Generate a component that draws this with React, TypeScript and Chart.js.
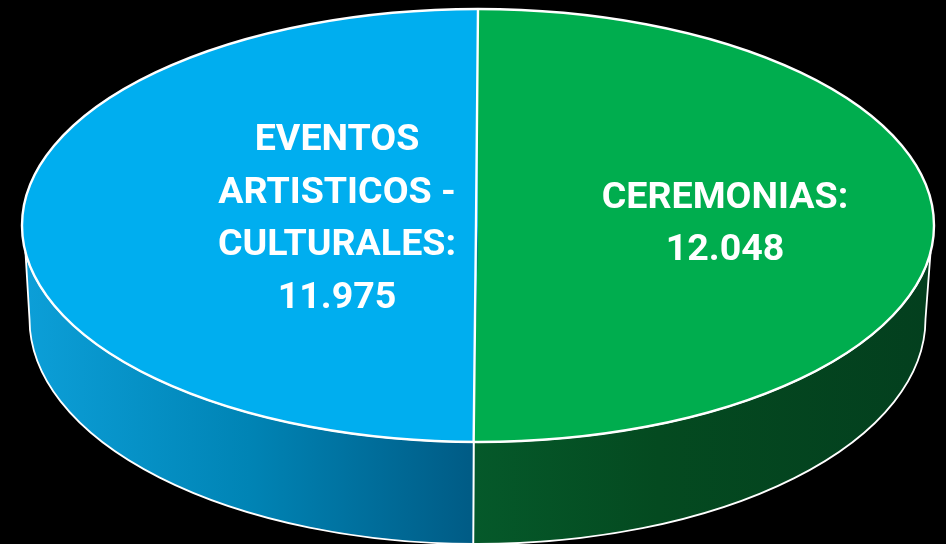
import React, { useEffect, useRef } from "react";
import { Chart, registerables } from "chart.js";

Chart.register(...registerables);

const categories = ["CEREMONIAS", "EVENTOS ARTISTICOS - CULTURALES"];
const values = [12048, 11975];
const valueLabels = ["12.048", "11.975"];
const labelLines = [["CEREMONIAS:"], ["EVENTOS", "ARTISTICOS -", "CULTURALES:"]];
const topColors = ["#00AD4E", "#00AEEF"];

const W = 946;
const H = 544;
const TOP = { cx: 478, cy: 225.5, rx: 456, ry: 216.5 };
const BASE = { cx: 477.5, cy: 319, rx: 448, ry: 225 };
const EDGE = 0.123;
const LABEL_POS = [
  { x: 725, y: 199, step: 52 },
  { x: 337, y: 141, step: 52.4 },
];
const FONT = "700 37.6px Roboto, 'Open Sans', sans-serif";

const pt = (e: typeof TOP, a: number): [number, number] => [
  e.cx + e.rx * Math.cos(a),
  e.cy + e.ry * Math.sin(a),
];

const pie3d = {
  id: "pie3d",
  beforeDatasetsDraw(chart: any) {
    const ctx = chart.ctx as CanvasRenderingContext2D;
    const arcs = chart.getDatasetMeta(0).data;
    const seam = arcs[0].endAngle;
    const right = 0;
    const left = Math.PI;

    // outer walls: one for each slice, swept over the slice's own angles
    const green = ctx.createLinearGradient(476, 0, 930, 0);
    green.addColorStop(0, "#05592A");
    green.addColorStop(0.4, "#044A20");
    green.addColorStop(1, "#033F1E");
    const blue = ctx.createLinearGradient(24, 0, 474, 0);
    blue.addColorStop(0, "#0C9FD8");
    blue.addColorStop(0.5, "#0084B5");
    blue.addColorStop(1, "#005B85");

    const wall = (fill: CanvasGradient, a0: number, a1: number, ta0: number, ta1: number) => {
      ctx.beginPath();
      ctx.ellipse(TOP.cx, TOP.cy, TOP.rx, TOP.ry, 0, ta0, ta1, ta1 < ta0);
      ctx.lineTo(...pt(BASE, a1));
      ctx.ellipse(BASE.cx, BASE.cy, BASE.rx, BASE.ry, 0, a1, a0, a0 < a1 ? true : false);
      ctx.closePath();
      ctx.fillStyle = fill;
      ctx.fill();
      ctx.strokeStyle = "#FFFFFF";
      ctx.lineWidth = 1.8;
      ctx.stroke();
    };
    wall(green, seam, right, seam, EDGE);
    wall(blue, seam, left, seam, left - EDGE);

    // squeeze the library's round pie onto the top ellipse
    const a = arcs[0];
    const r = a.outerRadius;
    ctx.save();
    ctx.translate(TOP.cx, TOP.cy);
    ctx.scale(TOP.rx / r, TOP.ry / r);
    ctx.translate(-a.x, -a.y);
  },
  afterDatasetsDraw(chart: any) {
    const ctx = chart.ctx as CanvasRenderingContext2D;
    ctx.restore();
    const arcs = chart.getDatasetMeta(0).data;

    ctx.strokeStyle = "#FFFFFF";
    ctx.lineWidth = 2.4;
    ctx.beginPath();
    ctx.ellipse(TOP.cx, TOP.cy, TOP.rx, TOP.ry, 0, 0, Math.PI * 2);
    ctx.stroke();
    ctx.beginPath();
    ctx.moveTo(...pt(TOP, arcs[0].startAngle));
    ctx.lineTo(TOP.cx - 2, TOP.cy);
    ctx.lineTo(...pt(TOP, arcs[0].endAngle));
    ctx.stroke();

    ctx.fillStyle = "#FFFFFF";
    ctx.font = FONT;
    ctx.textAlign = "center";
    ctx.textBaseline = "middle";
    labelLines.forEach((lines, i) => {
      const p = LABEL_POS[i];
      [...lines, valueLabels[i]].forEach((t, j) => ctx.fillText(t, p.x, p.y + j * p.step));
    });
  },
};

export default function App() {
  const ref = useRef<HTMLCanvasElement>(null);
  useEffect(() => {
    const chart = new Chart(ref.current!, {
      type: "pie",
      data: {
        labels: categories,
        datasets: [{ data: values, backgroundColor: topColors, borderWidth: 0 }],
      },
      options: {
        animation: false,
        responsive: false,
        events: [],
        layout: { padding: 0 },
        plugins: { legend: { display: false }, tooltip: { enabled: false } },
      },
      plugins: [pie3d],
    } as any);
    return () => chart.destroy();
  }, []);
  return (
    <div style={{ position: "fixed", inset: 0, background: "#000", overflow: "hidden" }}>
      <canvas ref={ref} width={W} height={H} style={{ display: "block" }} />
    </div>
  );
}
